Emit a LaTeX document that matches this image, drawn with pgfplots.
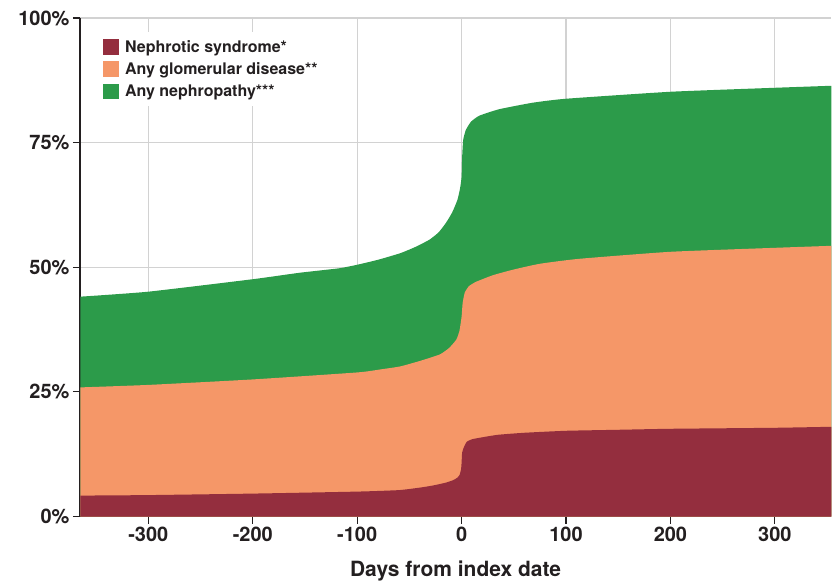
\documentclass[border=0pt]{standalone}
\usepackage{fontspec}
\setmainfont{TeX Gyre Heros}
\usepackage{pgfplots}
\pgfplotsset{compat=1.18}
\definecolor{nred}{HTML}{942E3E}
\definecolor{norange}{HTML}{F59768}
\definecolor{ngreen}{HTML}{2C9B4A}
\definecolor{txt}{HTML}{231F20}
\definecolor{gridc}{HTML}{D2D2D2}
\begin{document}
\begin{tikzpicture}[x=1pt,y=1pt]
\begin{axis}[
    scale only axis,
    width=752pt, height=499pt,
    xmin=-365.5, xmax=354, ymin=0, ymax=100,
    axis x line*=bottom, axis y line*=left,
    axis line style={txt, line width=1.5pt, -},
    xtick={-300,-200,-100,0,100,200,300},
    xticklabels={-300,-200,-100,0,100,200,300},
    ytick={0,25,50,75,100},
    yticklabels={0\%,25\%,50\%,75\%,100\%},
    tick align=outside,
    major tick length=7pt,
    tick style={txt, line width=1.2pt},
    grid=major,
    major grid style={gridc, line width=1.2pt},
    ticklabel style={font=\bfseries\fontsize{20}{24}\selectfont, text=txt},
    xlabel={Days from index date},
    xlabel style={font=\bfseries\fontsize{21}{25}\selectfont, text=txt, yshift=-12pt},
    legend style={at={(rel axis cs:0.0226,0.972)}, anchor=north west,
        draw=none, fill=white, font=\bfseries\fontsize{16}{19}\selectfont,
        text=txt, row sep=5pt, column sep=4pt, inner xsep=6pt, inner ysep=6pt,
        legend cell align=left},
    legend image code/.code={\fill[#1] (0pt,-8pt) rectangle (16pt,8pt);},
    reverse legend,
]
\addplot[fill=ngreen, draw=none, smooth, tension=0.3] coordinates {
(-365,44.1) (-300,45.1) (-200,47.6) (-155,48.9) (-117,49.8) (-100,50.5)
(-80,51.5) (-59,52.8) (-45,54.0) (-31,55.5) (-22,57.0) (-15,58.9)
(-9,61.0) (-4,63.5) (-1.5,65.8) (0,68.1) (0.5,72) (1.5,75.5) (4,77.5)
(9,79.2) (17,80.4) (36,81.7) (68,83.0) (100,83.8) (200,85.2) (300,86.0)
(354,86.4)} \closedcycle;
\addlegendentry{Any nephropathy***}
\addplot[fill=norange, draw=none, smooth, tension=0.3] coordinates {
(-365,25.9) (-300,26.4) (-200,27.5) (-100,28.9) (-78,29.5) (-59,30.1)
(-40,31.2) (-21,32.5) (-12,33.8) (-5,35.5) (-2,37.3) (0,40.1) (1,42.8)
(3,44.9) (7,46.2) (14,47.1) (30,48.4) (49,49.5) (75,50.7) (113,51.7)
(200,53.1) (300,53.9) (354,54.3)} \closedcycle;
\addlegendentry{Any glomerular disease**}
\addplot[fill=nred, draw=none, smooth, tension=0.3] coordinates {
(-365,4.2) (-300,4.3) (-200,4.6) (-100,5.0) (-60,5.3) (-40,5.8)
(-28,6.2) (-15,6.8) (-8,7.3) (-4,7.8) (-2,8.3) (-0.5,9.5) (0,10.8)
(0.5,12.8) (2,13.8) (5,15.0) (10,15.5) (20,15.9) (35,16.4) (60,16.8)
(100,17.2) (150,17.4) (200,17.6) (300,17.8) (354,18.0)} \closedcycle;
\addlegendentry{Nephrotic syndrome*}
\path (rel axis cs:0,0) ++(-80pt,-65pt) coordinate (bbl);
\path (rel axis cs:1,1) ++(0pt,18pt) coordinate (bbr);
\end{axis}
\useasboundingbox (bbl) rectangle (bbr);
\end{tikzpicture}
\end{document}
